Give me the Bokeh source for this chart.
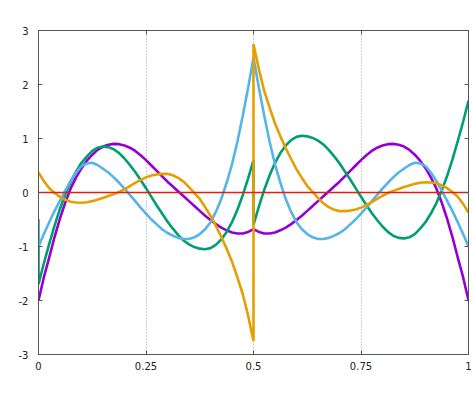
from bokeh.plotting import figure
from bokeh.models import Range1d, FixedTicker, LinearAxis, CustomLabelingPolicy
from bokeh.embed import file_html
from bokeh.resources import INLINE

# ---- tick data ----
x_ticks = [0, 0.25, 0.5, 0.75, 1]
x_tick_labels = ["0", "0.25", "0.5", "0.75", "1"]
y_ticks = [-3, -2, -1, 0, 1, 2, 3]
y_tick_labels = ["-3", "-2", "-1", "0", "1", "2", "3"]

# ---- sample positions ----
x_grid = [0.0000, 0.0125, 0.0250, 0.0375, 0.0500, 0.0625, 0.0750, 0.0875, 0.1000, 0.1125,
          0.1250, 0.1375, 0.1500, 0.1625, 0.1750, 0.1875, 0.2000, 0.2125, 0.2250, 0.2375,
          0.2500, 0.2625, 0.2750, 0.2875, 0.3000, 0.3125, 0.3250, 0.3375, 0.3500, 0.3625,
          0.3750, 0.3875, 0.4000, 0.4125, 0.4250, 0.4375, 0.4500, 0.4625, 0.4750, 0.4875,
          0.5000, 0.5125, 0.5250, 0.5375, 0.5500, 0.5625, 0.5750, 0.5875, 0.6000, 0.6125,
          0.6250, 0.6375, 0.6500, 0.6625, 0.6750, 0.6875, 0.7000, 0.7125, 0.7250, 0.7375,
          0.7500, 0.7625, 0.7750, 0.7875, 0.8000, 0.8125, 0.8250, 0.8375, 0.8500, 0.8625,
          0.8750, 0.8875, 0.9000, 0.9125, 0.9250, 0.9375, 0.9500, 0.9625, 0.9750, 0.9875,
          1.0000]

# ---- series values ----
purple_y = [-2.00, -1.57, -1.20, -0.82, -0.48, -0.18, 0.08, 0.28, 0.45, 0.59,
            0.70, 0.79, 0.85, 0.885, 0.90, 0.895, 0.87, 0.83, 0.77, 0.69,
            0.60, 0.50, 0.40, 0.30, 0.20, 0.11, 0.02, -0.07, -0.16, -0.25,
            -0.34, -0.43, -0.51, -0.585, -0.65, -0.70, -0.74, -0.76, -0.76, -0.73,
            -0.68,
            -0.73, -0.76, -0.76, -0.74, -0.70, -0.65, -0.585, -0.51, -0.43, -0.34,
            -0.25, -0.16, -0.07, 0.02, 0.11, 0.20, 0.30, 0.40, 0.50, 0.60,
            0.69, 0.77, 0.83, 0.87, 0.895, 0.90, 0.885, 0.85, 0.79, 0.70,
            0.59, 0.45, 0.28, 0.08, -0.18, -0.48, -0.82, -1.20, -1.57, -2.00]

# green: extra start value at x=0, jump at x=0.5
green_start = [-0.50]
green_left = [-1.70, -1.31, -0.95, -0.61, -0.30, -0.03, 0.20, 0.39, 0.55, 0.67,
              0.77, 0.83, 0.85, 0.84, 0.80, 0.73, 0.63, 0.51, 0.38, 0.23,
              0.08, -0.08, -0.24, -0.39, -0.54, -0.67, -0.79, -0.89, -0.96, -1.01,
              -1.04, -1.05, -1.03, -0.97, -0.87, -0.73, -0.55, -0.32, -0.05, 0.26,
              0.60]
green_right = [-0.60,
               -0.26, 0.05, 0.32, 0.55, 0.73, 0.87, 0.97, 1.03, 1.05, 1.04,
               1.01, 0.96, 0.89, 0.79, 0.67, 0.54, 0.39, 0.24, 0.08, -0.08,
               -0.23, -0.38, -0.51, -0.63, -0.73, -0.80, -0.84, -0.85, -0.83, -0.77,
               -0.67, -0.55, -0.39, -0.20, 0.03, 0.30, 0.61, 0.95, 1.31, 1.70]

# blue: extra start value at x=0
blue_start = [-0.50]
blue_rest = [-1.00, -0.77, -0.55, -0.34, -0.15, 0.04, 0.22, 0.37, 0.49, 0.54,
             0.55, 0.51, 0.44, 0.37, 0.28, 0.18, 0.07, -0.045, -0.16, -0.28,
             -0.39, -0.50, -0.59, -0.68, -0.75, -0.80, -0.84, -0.86, -0.86, -0.83,
             -0.77, -0.68, -0.55, -0.36, -0.12, 0.18, 0.52, 0.94, 1.42, 1.94,
             2.50,
             1.94, 1.42, 0.94, 0.52, 0.18, -0.12, -0.36, -0.55, -0.68, -0.77,
             -0.83, -0.86, -0.86, -0.84, -0.80, -0.75, -0.68, -0.59, -0.50, -0.39,
             -0.28, -0.16, -0.045, 0.07, 0.18, 0.28, 0.37, 0.44, 0.51, 0.55,
             0.54, 0.49, 0.37, 0.22, 0.04, -0.15, -0.34, -0.55, -0.77, -1.00]

# orange: jump at x=0.5
orange_left = [0.37, 0.21, 0.08, -0.01, -0.08, -0.135, -0.17, -0.185, -0.19, -0.18,
               -0.16, -0.13, -0.10, -0.065, -0.03, 0.01, 0.06, 0.12, 0.18, 0.235,
               0.28, 0.315, 0.335, 0.345, 0.345, 0.32, 0.27, 0.20, 0.10, -0.01,
               -0.12, -0.27, -0.43, -0.62, -0.82, -1.04, -1.28, -1.57, -1.88, -2.28,
               -2.75]
orange_right = [2.75,
                2.28, 1.88, 1.57, 1.28, 1.04, 0.82, 0.62, 0.43, 0.27, 0.12,
                0.01, -0.10, -0.20, -0.27, -0.32, -0.345, -0.345, -0.335, -0.315, -0.28,
                -0.235, -0.18, -0.12, -0.06, -0.01, 0.03, 0.065, 0.10, 0.13, 0.16,
                0.18, 0.19, 0.185, 0.17, 0.135, 0.08, 0.01, -0.08, -0.21, -0.37]

zero_x = [0.0, 1.0]
zero_y = [0.0, 0.0]

# ---- assemble line tables ----
x_left = x_grid[:41]
x_right = x_grid[40:]
purple_x = x_grid
green_x = [0.0] + x_left + x_right
green_y = green_start + green_left + green_right
blue_x = [0.0] + x_grid
blue_y = blue_start + blue_rest
orange_x = x_left + x_right
orange_y = orange_left + orange_right
assert len(purple_x) == len(purple_y)
assert len(green_x) == len(green_y)
assert len(blue_x) == len(blue_y)
assert len(orange_x) == len(orange_y)

FONT = "DejaVu Sans"
FRAME = "#555555"

p = figure(frame_width=430, frame_height=324,
           x_range=Range1d(0, 1), y_range=Range1d(-3, 3),
           output_backend="svg", toolbar_location=None,
           min_border_left=38, min_border_right=0,
           min_border_top=30, min_border_bottom=30)
p.outline_line_color = FRAME
p.background_fill_color = "white"
p.border_fill_color = "white"

xa = p.below[0]
ya = p.left[0]
xa.ticker = FixedTicker(ticks=x_ticks)
xa.major_label_overrides = dict(zip(x_ticks, x_tick_labels))
ya.ticker = FixedTicker(ticks=y_ticks)
ya.major_label_overrides = dict(zip(y_ticks, y_tick_labels))
for ax in (xa, ya):
    ax.major_tick_in = 4
    ax.major_tick_out = 0
    ax.minor_tick_line_color = None
    ax.axis_line_color = FRAME
    ax.major_tick_line_color = FRAME
    ax.major_label_text_font = FONT
    ax.major_label_text_font_size = "10px"
    ax.major_label_text_color = "#222222"
xa.major_label_standoff = 7
ya.major_label_standoff = 10

no_labels = """
const all = [...indices]
for (const i of all) indices.unset(i)
return indices
"""
top = LinearAxis(ticker=FixedTicker(ticks=x_ticks), major_tick_in=4, major_tick_out=0,
                 minor_tick_line_color=None, axis_line_color=FRAME,
                 major_tick_line_color=FRAME, major_label_text_font_size="1px",
                 major_label_standoff=0,
                 major_label_policy=CustomLabelingPolicy(code=no_labels))
right = LinearAxis(ticker=FixedTicker(ticks=y_ticks), major_tick_in=4, major_tick_out=0,
                   minor_tick_line_color=None, axis_line_color=FRAME,
                   major_tick_line_color=FRAME, major_label_text_font_size="1px",
                   major_label_standoff=0,
                   major_label_policy=CustomLabelingPolicy(code=no_labels))
p.add_layout(top, "above")
p.add_layout(right, "right")

p.xgrid.ticker = FixedTicker(ticks=x_ticks)
p.xgrid.grid_line_color = "#a0a0a0"
p.xgrid.grid_line_dash = "1 2"
p.xgrid.grid_line_width = 1
p.ygrid.grid_line_color = None

LW = 2.6
p.line(purple_x, purple_y, line_color="#9400d3", line_width=LW)
p.line(green_x, green_y, line_color="#009e73", line_width=LW)
p.line(blue_x, blue_y, line_color="#56b4e9", line_width=LW)
p.line(orange_x, orange_y, line_color="#e69f00", line_width=LW)
p.line(zero_x, zero_y, line_color="#e51e10", line_width=1.6)

open("out.html", "w").write(file_html(p, INLINE))
